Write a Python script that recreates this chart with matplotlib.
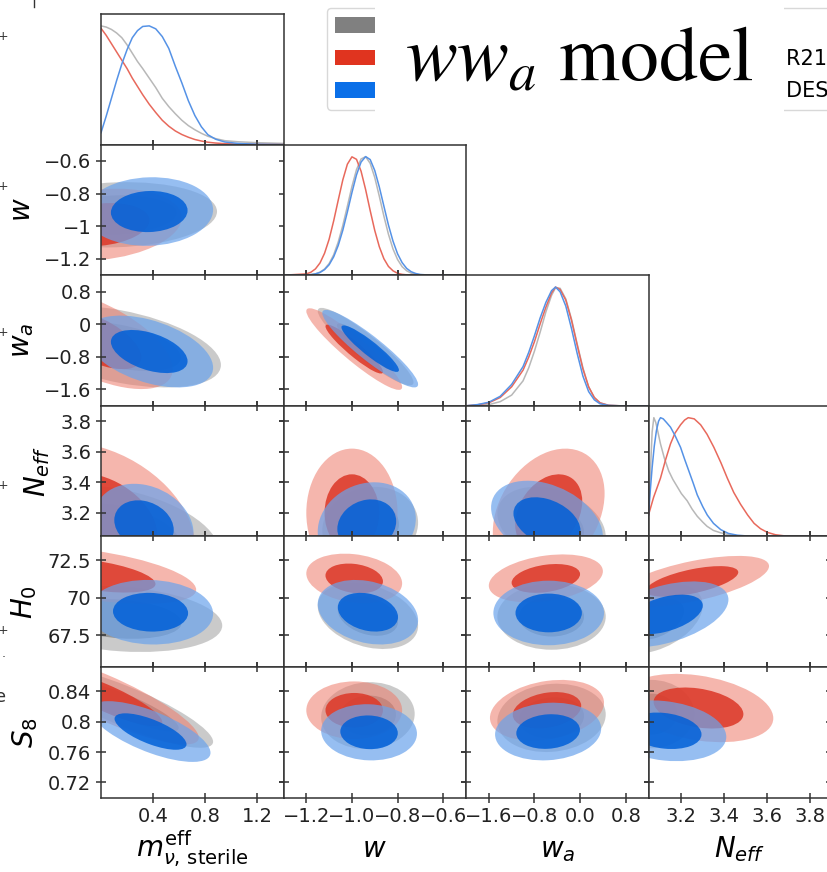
import numpy as np
import matplotlib
matplotlib.use('Agg')
import matplotlib.pyplot as plt
from matplotlib.patches import Ellipse, Patch, Rectangle
from matplotlib.transforms import Affine2D
from matplotlib.font_manager import FontProperties

W, H = 827, 872
fig = plt.figure(figsize=(W / 100, H / 100), dpi=100)

# ---------------- parameters / axes ----------------
names = ['mnu', 'w', 'wa', 'neff', 'H0', 'S8']
axis_labels = {'mnu': r'$m_{\nu,\,\mathrm{sterile}}^{\mathrm{eff}}$', 'w': r'$w$', 'wa': r'$w_a$',
               'neff': r'$N_{eff}$', 'H0': r'$H_0$', 'S8': r'$S_8$'}
limits = {'mnu': (0.0, 1.4), 'w': (-1.3, -0.5), 'wa': (-2.0, 1.2),
          'neff': (3.046, 3.9), 'H0': (65.4, 74.1), 'S8': (0.70, 0.872)}
tick_pos = {'mnu': [0.4, 0.8, 1.2], 'w': [-1.2, -1.0, -0.8, -0.6], 'wa': [-1.6, -0.8, 0.0, 0.8],
            'neff': [3.2, 3.4, 3.6, 3.8], 'H0': [67.5, 70, 72.5], 'S8': [0.72, 0.76, 0.8, 0.84]}
xtick_text = {'mnu': ['0.4', '0.8', '1.2'], 'w': ['\u22121.2', '\u22121.0', '\u22120.8', '\u22120.6'],
              'wa': ['\u22121.6', '\u22120.8', '0.0', '0.8'], 'neff': ['3.2', '3.4', '3.6', '3.8']}
ytick_text = {'w': ['\u22121.2', '\u22121', '\u22120.8', '\u22120.6'], 'wa': ['\u22121.6', '\u22120.8', '0', '0.8'],
              'neff': ['3.2', '3.4', '3.6', '3.8'], 'H0': ['67.5', '70', '72.5'],
              'S8': ['0.72', '0.76', '0.8', '0.84']}

set_names = ['grey', 'red', 'blue']
legend_colors = {'grey': '#808080', 'red': '#e0341f', 'blue': '#0a6fe8'}
line_colors = {'grey': '#b8b8b8', 'red': '#e8695c', 'blue': '#5592e6'}
outer_colors = {'grey': ('#a8a8a8', 0.6), 'red': ('#ee7a6a', 0.55), 'blue': ('#6aa3ec', 0.7)}
inner_colors = {'grey': ('#808080', 0.7), 'red': ('#dc3a2a', 0.88), 'blue': ('#0060d8', 0.85)}

# ---------------- 1D marginals (normalised to peak = 1) ----------------
mnu_grid = [0.0, 0.04, 0.08, 0.12, 0.16, 0.2, 0.24, 0.28, 0.32, 0.37, 0.42, 0.47, 0.52, 0.57,
            0.62, 0.67, 0.72, 0.77, 0.82, 0.88, 0.95, 1.05, 1.2, 1.4]
mnu_grey = [1.0, 0.99, 0.97, 0.94, 0.90, 0.84, 0.77, 0.70, 0.64, 0.56, 0.48, 0.39, 0.32, 0.26,
            0.205, 0.16, 0.125, 0.095, 0.07, 0.05, 0.033, 0.024, 0.016, 0.01]
mnu_red = [0.98, 0.92, 0.85, 0.78, 0.71, 0.64, 0.56, 0.49, 0.42, 0.34, 0.27, 0.205, 0.155, 0.115,
           0.085, 0.062, 0.043, 0.03, 0.02, 0.013, 0.008, 0.005, 0.002, 0.0]
mnu_blue = [0.10, 0.24, 0.39, 0.54, 0.68, 0.80, 0.90, 0.96, 0.995, 1.0, 0.975, 0.91, 0.81, 0.66,
            0.52, 0.37, 0.245, 0.15, 0.083, 0.045, 0.022, 0.01, 0.003, 0.0]

w_grid = [-1.30, -1.20, -1.18, -1.16, -1.14, -1.12, -1.10, -1.08, -1.06, -1.04, -1.02, -1.00,
          -0.98, -0.96, -0.94, -0.92, -0.90, -0.88, -0.86, -0.84, -0.82, -0.80, -0.78, -0.76,
          -0.74, -0.72, -0.70, -0.66, -0.50]
w_grey = [0.0, 0.002, 0.005, 0.011, 0.026, 0.052, 0.098, 0.172, 0.28, 0.419, 0.581, 0.747,
          0.889, 0.979, 0.998, 0.942, 0.823, 0.665, 0.498, 0.345, 0.221, 0.132, 0.072, 0.037,
          0.017, 0.008, 0.003, 0.0, 0.0]
w_red = [0.0, 0.011, 0.025, 0.053, 0.103, 0.185, 0.303, 0.458, 0.633, 0.803, 0.935, 0.997,
         0.976, 0.876, 0.721, 0.544, 0.377, 0.24, 0.139, 0.074, 0.037, 0.016, 0.007, 0.003,
         0.001, 0.0, 0.0, 0.0, 0.0]
w_blue = [0.0, 0.002, 0.005, 0.011, 0.023, 0.047, 0.088, 0.155, 0.251, 0.379, 0.533, 0.696,
          0.845, 0.953, 0.999, 0.974, 0.882, 0.743, 0.582, 0.423, 0.287, 0.18, 0.106, 0.057,
          0.029, 0.014, 0.006, 0.001, 0.0]

wa_grid = [-2.0, -1.8, -1.6, -1.4, -1.2, -1.0, -0.9, -0.8, -0.7, -0.6, -0.5, -0.43, -0.35, -0.25,
           -0.15, -0.05, 0.05, 0.15, 0.25, 0.35, 0.5, 0.7, 1.2]
wa_grey = [0.0, 0.003, 0.01, 0.035, 0.09, 0.21, 0.32, 0.46, 0.62, 0.79, 0.93, 0.995, 0.99, 0.9,
           0.73, 0.52, 0.32, 0.16, 0.07, 0.025, 0.004, 0.0, 0.0]
wa_red = [0.0, 0.008, 0.025, 0.07, 0.16, 0.30, 0.41, 0.54, 0.69, 0.83, 0.95, 1.0, 0.98, 0.89,
          0.72, 0.51, 0.31, 0.16, 0.07, 0.025, 0.004, 0.0, 0.0]
wa_blue = [0.0, 0.01, 0.03, 0.08, 0.18, 0.33, 0.45, 0.59, 0.74, 0.87, 0.97, 1.0, 0.96, 0.84,
           0.65, 0.44, 0.25, 0.12, 0.05, 0.017, 0.003, 0.0, 0.0]

neff_x_grey = [3.046, 3.055, 3.063, 3.071, 3.08, 3.09, 3.102, 3.12, 3.141, 3.16, 3.18, 3.2, 3.227,
               3.25, 3.274, 3.3, 3.32, 3.35, 3.384, 3.42, 3.46, 3.55, 3.9]
neff_grey = [0.18, 0.55, 0.88, 1.0, 0.96, 0.88, 0.78, 0.66, 0.55, 0.48, 0.42, 0.36, 0.30,
             0.23, 0.17, 0.12, 0.085, 0.05, 0.03, 0.015, 0.005, 0.0, 0.0]
neff_x_red = [3.046, 3.07, 3.102, 3.125, 3.149, 3.17, 3.196, 3.215, 3.232, 3.26, 3.29, 3.32, 3.352,
              3.385, 3.415, 3.445, 3.477, 3.51, 3.54, 3.57, 3.602, 3.64, 3.68, 3.75, 3.9]
neff_red = [0.18, 0.33, 0.49, 0.64, 0.78, 0.87, 0.94, 0.98, 1.0, 0.99, 0.94, 0.86, 0.75,
            0.62, 0.49, 0.37, 0.27, 0.18, 0.11, 0.065, 0.034, 0.014, 0.005, 0.0, 0.0]
neff_x_blue = [3.046, 3.055, 3.063, 3.073, 3.083, 3.093, 3.102, 3.115, 3.13, 3.149, 3.17, 3.196,
               3.215, 3.235, 3.255, 3.274, 3.3, 3.321, 3.35, 3.384, 3.42, 3.462, 3.52, 3.9]
neff_blue = [0.18, 0.40, 0.58, 0.76, 0.89, 0.97, 1.0, 0.99, 0.96, 0.92, 0.85, 0.75,
             0.65, 0.55, 0.45, 0.35, 0.25, 0.18, 0.11, 0.057, 0.025, 0.01, 0.002, 0.0]

curves_1d = {
    'mnu': {'grey': (mnu_grid, mnu_grey), 'red': (mnu_grid, mnu_red), 'blue': (mnu_grid, mnu_blue)},
    'w': {'grey': (w_grid, w_grey), 'red': (w_grid, w_red), 'blue': (w_grid, w_blue)},
    'wa': {'grey': (wa_grid, wa_grey), 'red': (wa_grid, wa_red), 'blue': (wa_grid, wa_blue)},
    'neff': {'grey': (neff_x_grey, neff_grey), 'red': (neff_x_red, neff_red),
             'blue': (neff_x_blue, neff_blue)},
}

# ---------------- 2D contours ----------------
# outer contour: (centre x, centre y, half extent x, half extent y, correlation); inner = 0.6 x outer
w_mnu = {'grey': (0.12, -0.93, 0.77, 0.20, 0.1), 'red': (0.0, -0.99, 0.62, 0.22, 0.2),
         'blue': (0.37, -0.91, 0.49, 0.21, 0.05)}
wa_mnu = {'grey': (0.15, -0.55, 0.77, 1.0, -0.45), 'red': (-0.05, -0.37, 0.6, 1.22, -0.6),
          'blue': (0.37, -0.67, 0.49, 0.88, -0.45)}
neff_mnu = {'grey': (0.15, 3.08, 0.75, 0.30, -0.4), 'red': (0.0, 3.16, 0.72, 0.5, -0.35),
            'blue': (0.33, 3.12, 0.38, 0.27, -0.2)}
H0_mnu = {'grey': (0.15, 68.6, 0.78, 2.2, -0.2), 'red': (-0.05, 71.5, 0.78, 1.9, -0.5),
          'blue': (0.38, 69.05, 0.48, 2.15, -0.05)}
S8_mnu = {'grey': (0.2, 0.819, 0.66, 0.0534, -0.85), 'red': (0.05, 0.83, 0.7, 0.06, -0.85),
          'blue': (0.38, 0.787, 0.46, 0.04, -0.7)}
wa_w = {'grey': (-0.94, -0.55, 0.21, 0.95, -0.92), 'red': (-0.99, -0.61, 0.21, 1.0, -0.93),
        'blue': (-0.92, -0.6, 0.21, 0.95, -0.92)}
neff_w = {'grey': (-0.92, 3.11, 0.21, 0.26, 0.1), 'red': (-1.0, 3.2, 0.2, 0.42, 0.0),
          'blue': (-0.935, 3.12, 0.215, 0.28, 0.15)}
H0_w = {'grey': (-0.93, 68.8, 0.22, 2.2, -0.3), 'red': (-0.99, 71.3, 0.21, 1.65, -0.2),
        'blue': (-0.93, 69.05, 0.22, 2.15, -0.25)}
S8_w = {'grey': (-0.93, 0.808, 0.205, 0.044, 0.05), 'red': (-0.99, 0.815, 0.21, 0.038, 0.0),
        'blue': (-0.925, 0.786, 0.21, 0.037, -0.05)}
neff_wa = {'grey': (-0.5, 3.12, 0.95, 0.25, -0.3), 'red': (-0.55, 3.2, 0.98, 0.42, 0.3),
           'blue': (-0.58, 3.14, 0.98, 0.27, -0.35)}
H0_wa = {'grey': (-0.5, 68.75, 0.95, 2.2, 0.0), 'red': (-0.6, 71.3, 1.0, 1.6, 0.3),
         'blue': (-0.55, 69.0, 0.97, 2.15, 0.0)}
S8_wa = {'grey': (-0.5, 0.805, 0.95, 0.045, 0.1), 'red': (-0.58, 0.815, 1.0, 0.04, 0.25),
         'blue': (-0.56, 0.787, 0.93, 0.038, 0.1)}
H0_neff = {'grey': (3.08, 68.6, 0.22, 2.3, 0.4), 'red': (3.25, 71.1, 0.36, 1.7, 0.6),
           'blue': (3.12, 68.9, 0.3, 2.2, 0.45)}
S8_neff = {'grey': (3.06, 0.81, 0.2, 0.045, 0.0), 'red': (3.28, 0.818, 0.35, 0.045, -0.3),
           'blue': (3.12, 0.788, 0.29, 0.04, -0.2)}

contours_2d = {('w', 'mnu'): w_mnu, ('wa', 'mnu'): wa_mnu, ('neff', 'mnu'): neff_mnu,
               ('H0', 'mnu'): H0_mnu, ('S8', 'mnu'): S8_mnu, ('wa', 'w'): wa_w,
               ('neff', 'w'): neff_w, ('H0', 'w'): H0_w, ('S8', 'w'): S8_w,
               ('neff', 'wa'): neff_wa, ('H0', 'wa'): H0_wa, ('S8', 'wa'): S8_wa,
               ('H0', 'neff'): H0_neff, ('S8', 'neff'): S8_neff}

# ---------------- layout (pixels) ----------------
col_left = [101, 283.5, 466, 648.5]
col_w = 182.5
row_top = [14, 144.6, 275.2, 405.8, 536.4, 667.0]
row_h = 130.6
spine_col = '#333333'
xlabel_base = 857  # baseline of the bottom axis labels, pixels from top


def style(ax):
    for sp in ax.spines.values():
        sp.set_color(spine_col)
        sp.set_linewidth(1.1)


def draw_contours(ax, pars):
    for s in set_names:
        cx, cy, sx, sy, rho = pars[s]
        for k, (fc, al) in ((1.0, outer_colors[s]), (0.6, inner_colors[s])):
            m = np.array([[sx * k, 0, cx], [rho * sy * k, sy * k * np.sqrt(1 - rho ** 2), cy], [0, 0, 1]])
            tr = Affine2D(m) + ax.transData
            ax.add_patch(Ellipse((0, 0), 2, 2, transform=tr, facecolor=fc, alpha=al,
                                 edgecolor='none'))


for r in range(6):
    for c in range(min(r, 3) + 1):
        ax = fig.add_axes([col_left[c] / W, 1 - (row_top[r] + row_h) / H, col_w / W, row_h / H])
        style(ax)
        px = names[c]
        py = names[r]
        if r == c:
            for s in set_names:
                xs, ys = curves_1d[px][s]
                ax.plot(xs, ys, color=line_colors[s], lw=1.1)
            ax.set_xlim(limits[px])
            ax.set_ylim(0, 1.1)
            ax.set_yticks([])
            ax.set_xticks(tick_pos[px])
            ax.tick_params(axis='x', direction='inout', length=7, width=1.1, color=spine_col,
                           labelbottom=False)
        else:
            draw_contours(ax, contours_2d[(py, px)])
            ax.set_xlim(limits[px])
            ax.set_ylim(limits[py])
            ax.set_xticks(tick_pos[px])
            ax.set_yticks(tick_pos[py])
            ax.tick_params(direction='inout', length=7, width=1.1, color=spine_col,
                           top=True, right=True, labelsize=14, labelcolor='#222222',
                           labelbottom=(r == 5), labelleft=(c == 0))
            if r == 5:
                ax.set_xticklabels(xtick_text[px])
                ax.set_xlabel(axis_labels[px], fontsize=20, va='baseline')
                ax.xaxis.set_label_coords(0.5, -(xlabel_base - row_top[5] - row_h) / row_h)
            if c == 0:
                ax.set_yticklabels(ytick_text[py])
                ax.set_ylabel(axis_labels[py], fontsize=20, labelpad=6)

# ---------------- legend (partly hidden behind the title box) ----------------
LEG_FS = 15
fs_px = LEG_FS * 100 / 72
legend_prefix = 'Planck 2018+BAO+Pantheon'
legend_labels = [legend_prefix, legend_prefix + '+R21', legend_prefix + '+DES']
renderer = fig.canvas.get_renderer()
pw, _, _ = renderer.get_text_width_height_descent(legend_prefix, FontProperties(size=LEG_FS), ismath=False)
handle_right = 327 + 0.4 * fs_px + 2.0 * fs_px
htp = (769 - handle_right - pw) / fs_px
handles = [Patch(facecolor=legend_colors[s], edgecolor='none') for s in set_names]
fig.legend(handles, legend_labels, loc='upper left', bbox_to_anchor=(327 / W, 1 - 8 / H),
           bbox_transform=fig.transFigure, borderaxespad=0, fontsize=LEG_FS, labelspacing=0.6,
           handleheight=0.75, handlelength=2.0, handletextpad=htp, borderpad=0.4,
           framealpha=1, edgecolor='#d8d8d8', fancybox=True)

fig.add_artist(Rectangle((375 / W, 1 - 118 / H), (784 - 375) / W, 116 / H, transform=fig.transFigure,
                         facecolor='white', edgecolor='none', zorder=20))
fig.text(405 / W, 1 - 80 / H, r'$ww_a$ model', fontsize=56, family='STIXGeneral',
         math_fontfamily='stix', ha='left', va='baseline', zorder=21)

# fragments of the neighbouring picture at the left edge
for yy in [36, 187, 333, 485, 630]:
    fig.text(3 / W, 1 - yy / H, '+', fontsize=9, color='#333333', ha='center', va='center')
fig.text(4 / W, 1 - 653 / H, '.', fontsize=9, color='#333333', ha='center', va='center')
fig.text(1 / W, 1 - 697 / H, 'e', fontsize=13, color='#333333', ha='center', va='center')
fig.add_artist(plt.Line2D([34 / W, 34 / W], [1, 1 - 7 / H], transform=fig.transFigure,
                          color='#333333', lw=1))

fig.savefig('out.png', dpi=100)
